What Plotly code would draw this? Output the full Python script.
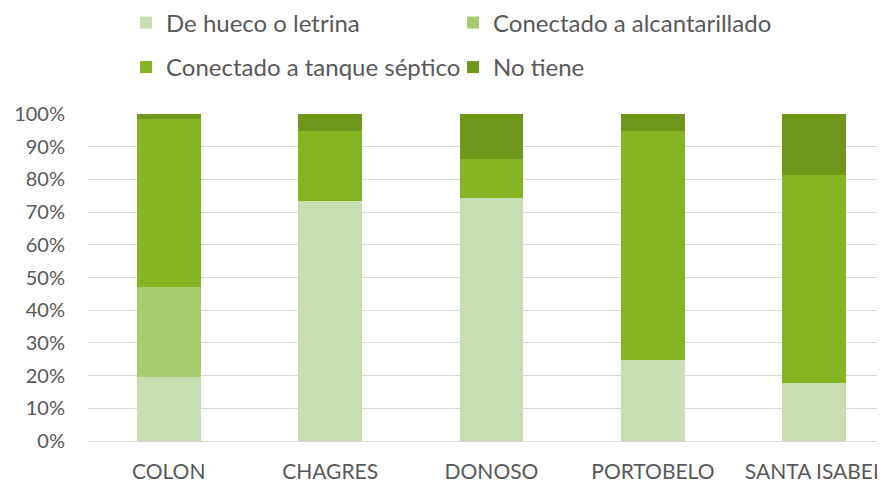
import plotly.graph_objects as go

categories = ["COLON", "CHAGRES", "DONOSO", "PORTOBELO", "SANTA ISABEL"]
series_names = ["De hueco o letrina", "Conectado a alcantarillado",
                "Conectado a tanque séptico", "No tiene"]
hueco = [19.6, 73.3, 74.4, 24.9, 17.6]
alcantarillado = [27.5, 0.0, 0.0, 0.0, 0.0]
tanque = [51.3, 21.4, 11.7, 69.8, 63.7]
no_tiene = [1.6, 5.3, 13.9, 5.3, 18.7]
y_ticks = [0, 10, 20, 30, 40, 50, 60, 70, 80, 90, 100]
y_tick_labels = [f"{v}%" for v in y_ticks]

colors = ["#C9DEB0", "#A8CB6F", "#87B423", "#71961C"]
values = [hueco, alcantarillado, tanque, no_tiene]
legend_ids = ["legend", "legend2", "legend3", "legend4"]

FONT = "Lato, 'Open Sans', sans-serif"
GREY = "#595959"

W, H = 877, 473  # page body has an 8px margin inside the 885x481 window

fig = go.Figure()
for name, vals, col, lg in zip(series_names, values, colors, legend_ids):
    fig.add_trace(go.Bar(
        x=categories, y=vals, name=name, marker_color=col,
        marker_line_width=0, width=0.396, legend=lg, showlegend=True,
    ))

legend_common = dict(
    orientation="h", xref="container", yref="container",
    xanchor="left", yanchor="middle",
    font=dict(family=FONT, size=24, color=GREY),
    bgcolor="rgba(0,0,0,0)", borderwidth=0,
)
col_x = [118 / W, 445 / W]
row_y = [1 - 15 / H, 1 - 59.5 / H]

fig.update_layout(
    width=W, height=H,
    margin=dict(l=79.5, r=0, t=106, b=40.3, autoexpand=False),
    barmode="stack", showlegend=True,
    plot_bgcolor="white", paper_bgcolor="white",
    font=dict(family=FONT, color=GREY),
    legend=dict(legend_common, x=col_x[0], y=row_y[0]),
    legend2=dict(legend_common, x=col_x[1], y=row_y[0]),
    legend3=dict(legend_common, x=col_x[0], y=row_y[1]),
    legend4=dict(legend_common, x=col_x[1], y=row_y[1]),
)
fig.update_xaxes(
    range=[-0.5, 4.438], showgrid=False, showline=False, zeroline=False,
    tickfont=dict(family=FONT, size=21, color=GREY), ticks="",
    ticklabelstandoff=16,
)
fig.update_yaxes(
    range=[0, 100], tickvals=y_ticks, ticktext=y_tick_labels,
    showgrid=True, gridcolor="#D9D9D9", gridwidth=1,
    zeroline=True, zerolinecolor="#D9D9D9", zerolinewidth=1,
    showline=False, ticks="", ticklabelstandoff=22,
    tickfont=dict(family=FONT, size=20, color=GREY),
)
fig.write_html("out.html")
